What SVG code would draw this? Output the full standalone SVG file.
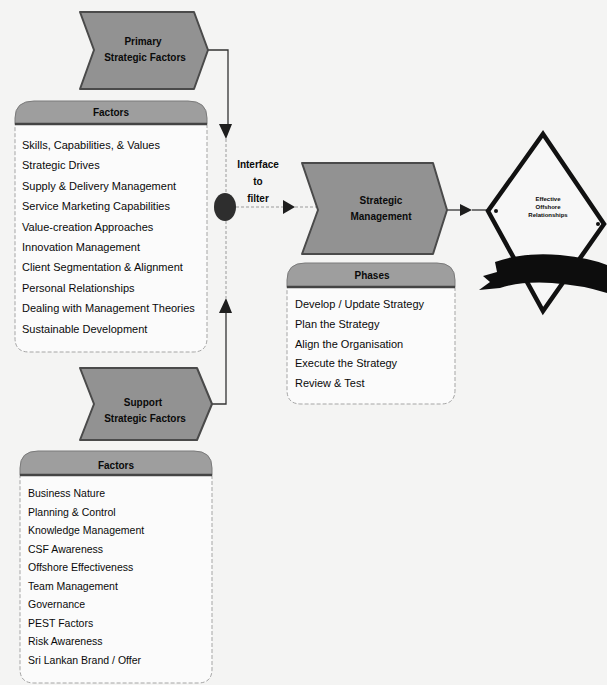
<svg xmlns="http://www.w3.org/2000/svg" width="607" height="685" viewBox="0 0 607 685">
<style>
  text { font-family: "Liberation Sans", "DejaVu Sans", sans-serif; fill: #0a0a0a; }
  .chev { fill: #929292; stroke: #4a4a4a; stroke-width: 2; stroke-linejoin: round; }
  .ctext { font-size: 10px; font-weight: bold; text-anchor: middle; }
  .hdr { fill: #9e9e9e; stroke: #7a7a7a; stroke-width: 1; }
  .hline { stroke: #444; stroke-width: 2.5; }
  .body { fill: #fbfbfb; stroke: #a5a5a5; stroke-width: 1; stroke-dasharray: 4 2; }
  .htext { font-size: 10px; font-weight: bold; text-anchor: middle; }
  .item { font-size: 11px; }
  .item2 { font-size: 10.5px; }
  .solid { fill: none; stroke: #333; stroke-width: 1.3; }
  .dash { fill: none; stroke: #9a9a9a; stroke-width: 1; stroke-dasharray: 3 2; }
  .arr { fill: #1e1e1e; }
</style>
<rect width="607" height="685" fill="#f4f4f3"/>

<g id="connectors">
  <path class="solid" d="M207,50 H228 V124"/>
  <path class="dash" d="M226,139 V193"/>
  <path class="dash" d="M226,221 V298"/>
  <path class="solid" d="M226,313 V404 H212"/>
  <path class="dash" d="M236,207 H283"/>
  <path class="dash" d="M295,207 H318"/>
  <path class="solid" d="M446,210 H460" stroke="#777"/>
  <path class="solid" d="M472,210 H488" stroke="#777"/>
  <polygon class="arr" points="219,124 232,124 226,139"/>
  <polygon class="arr" points="219,313 232,313 226,298"/>
  <polygon class="arr" points="283,200 283,214 295,207"/>
  <polygon class="arr" points="460,204 460,216 472,210"/>
</g>

<g id="primary-chevron">
  <polygon class="chev" points="80,12 194,12 208,50 194,89 80,89 94,50"/>
  <text class="ctext" x="143" y="45">Primary</text>
  <text class="ctext" x="145" y="61">Strategic Factors</text>
</g>

<g id="primary-factors">
  <path class="body" d="M15,124 H207 V338 Q207,352 193,352 H29 Q15,352 15,338 Z"/>
  <path class="hdr" d="M15,124 V118 Q15,101 34,101 H188 Q207,101 207,118 V124 Z"/>
  <line class="hline" x1="15" y1="124" x2="207" y2="124"/>
  <text class="htext" x="111" y="116">Factors</text>
  <text class="item" x="22" y="149">Skills, Capabilities, &amp; Values</text>
  <text class="item" x="22" y="169">Strategic Drives</text>
  <text class="item" x="22" y="190">Supply &amp; Delivery Management</text>
  <text class="item" x="22" y="210">Service Marketing Capabilities</text>
  <text class="item" x="22" y="231">Value-creation Approaches</text>
  <text class="item" x="22" y="251">Innovation Management</text>
  <text class="item" x="22" y="271">Client Segmentation &amp; Alignment</text>
  <text class="item" x="22" y="292">Personal Relationships</text>
  <text class="item" x="22" y="312">Dealing with Management Theories</text>
  <text class="item" x="22" y="333">Sustainable Development</text>
</g>

<g id="interface">
  <ellipse cx="225" cy="207" rx="11" ry="14" fill="#2e2e2e"/>
  <text class="ctext" x="258" y="168">Interface</text>
  <text class="ctext" x="258" y="185">to</text>
  <text class="ctext" x="258" y="202">filter</text>
</g>

<g id="strategic-management">
  <polygon class="chev" points="302,163 433,163 447,210 433,254 302,254 318,210"/>
  <text class="ctext" x="381" y="204">Strategic</text>
  <text class="ctext" x="381" y="220">Management</text>
</g>

<g id="phases">
  <path class="body" d="M287,287 H455 V390 Q455,404 441,404 H301 Q287,404 287,390 Z"/>
  <path class="hdr" d="M287,287 V280 Q287,263 305,263 H437 Q455,263 455,280 V287 Z"/>
  <line class="hline" x1="287" y1="287" x2="455" y2="287"/>
  <text class="htext" x="372" y="279">Phases</text>
  <text class="item" x="295" y="308">Develop / Update Strategy</text>
  <text class="item" x="295" y="328">Plan the Strategy</text>
  <text class="item" x="295" y="348">Align the Organisation</text>
  <text class="item" x="295" y="367">Execute the Strategy</text>
  <text class="item" x="295" y="387">Review &amp; Test</text>
</g>

<g id="support-chevron">
  <polygon class="chev" points="80,368 197,368 212,404 197,440 80,440 94,404"/>
  <text class="ctext" x="143" y="406">Support</text>
  <text class="ctext" x="145" y="422">Strategic Factors</text>
</g>

<g id="support-factors">
  <path class="body" d="M20,475 H212 V669 Q212,683 198,683 H34 Q20,683 20,669 Z"/>
  <path class="hdr" d="M20,475 V468 Q20,451 38,451 H194 Q212,451 212,468 V475 Z"/>
  <line class="hline" x1="20" y1="475" x2="212" y2="475"/>
  <text class="htext" x="116" y="469">Factors</text>
  <text class="item2" x="28" y="497">Business Nature</text>
  <text class="item2" x="28" y="516">Planning &amp; Control</text>
  <text class="item2" x="28" y="534">Knowledge Management</text>
  <text class="item2" x="28" y="553">CSF Awareness</text>
  <text class="item2" x="28" y="571">Offshore Effectiveness</text>
  <text class="item2" x="28" y="590">Team Management</text>
  <text class="item2" x="28" y="608">Governance</text>
  <text class="item2" x="28" y="627">PEST Factors</text>
  <text class="item2" x="28" y="645">Risk Awareness</text>
  <text class="item2" x="28" y="664">Sri Lankan Brand / Offer</text>
</g>

<g id="effective-offshore-relationships">
  <polygon points="543,134 604,224 543,311 488,211" fill="#f7f7f7" stroke="#111" stroke-width="4.5" stroke-linejoin="miter"/>
  <circle cx="496" cy="211" r="2" fill="#111"/>
  <circle cx="598" cy="224" r="2" fill="#111"/>
  <text x="548" y="201" font-size="6" font-weight="bold" text-anchor="middle">Effective</text>
  <text x="548" y="209" font-size="6" font-weight="bold" text-anchor="middle">Offshore</text>
  <text x="548" y="217" font-size="6" font-weight="bold" text-anchor="middle">Relationships</text>
  <path d="M479,290 L490,282 L483,276 L497,272 L495,262 Q522,252 560,255 Q590,258 607,265 L607,293 Q582,285 552,283 Q522,281 500,288 Z" fill="#0d0d0d"/>
</g>
</svg>
